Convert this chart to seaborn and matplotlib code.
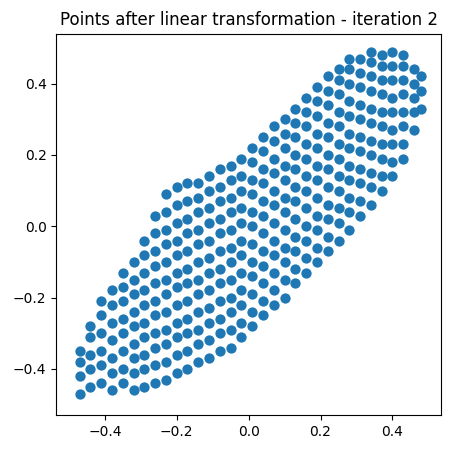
import matplotlib
matplotlib.use("Agg")
import matplotlib.pyplot as plt
import seaborn as sns
import pandas as pd

# point columns: x position and the y values in that column
col_x = [-0.47, -0.44, -0.41, -0.38, -0.35, -0.32, -0.29, -0.26, -0.23, -0.20,
         -0.17, -0.14, -0.11, -0.08, -0.05, -0.02, 0.01, 0.04, 0.07, 0.10,
         0.13, 0.16, 0.19, 0.22, 0.25, 0.28, 0.31, 0.34, 0.37, 0.40,
         0.43, 0.46, 0.48]
col_y = [
    [-0.47, -0.42, -0.38, -0.35],
    [-0.45, -0.40, -0.36, -0.31, -0.28],
    [-0.44, -0.39, -0.35, -0.30, -0.25, -0.21],
    [-0.46, -0.41, -0.37, -0.32, -0.27, -0.22, -0.18],
    [-0.44, -0.40, -0.35, -0.30, -0.26, -0.21, -0.17, -0.13],
    [-0.46, -0.41, -0.37, -0.33, -0.28, -0.24, -0.19, -0.15, -0.10],
    [-0.45, -0.40, -0.36, -0.31, -0.27, -0.22, -0.18, -0.13, -0.08, -0.04],
    [-0.44, -0.39, -0.34, -0.30, -0.25, -0.21, -0.16, -0.11, -0.07, -0.02, 0.03],
    [-0.43, -0.38, -0.33, -0.29, -0.24, -0.19, -0.15, -0.10, -0.05, -0.01, 0.04, 0.09],
    [-0.41, -0.36, -0.31, -0.27, -0.22, -0.17, -0.13, -0.08, -0.04, 0.01, 0.06, 0.11],
    [-0.40, -0.35, -0.30, -0.26, -0.21, -0.16, -0.12, -0.07, -0.02, 0.02, 0.07, 0.12],
    [-0.38, -0.33, -0.29, -0.24, -0.19, -0.15, -0.10, -0.05, -0.01, 0.04, 0.08, 0.12],
    [-0.37, -0.32, -0.27, -0.23, -0.18, -0.13, -0.09, -0.04, 0.01, 0.05, 0.10, 0.14],
    [-0.35, -0.30, -0.26, -0.21, -0.16, -0.12, -0.07, -0.02, 0.02, 0.07, 0.11, 0.16],
    [-0.34, -0.29, -0.24, -0.20, -0.15, -0.10, -0.06, -0.01, 0.04, 0.08, 0.13, 0.17],
    [-0.31, -0.27, -0.22, -0.18, -0.13, -0.08, -0.04, 0.01, 0.05, 0.10, 0.14, 0.19],
    [-0.28, -0.24, -0.19, -0.14, -0.10, -0.05, 0.00, 0.04, 0.09, 0.13, 0.18, 0.22],
    [-0.25, -0.21, -0.16, -0.11, -0.07, -0.02, 0.03, 0.07, 0.12, 0.16, 0.21, 0.25],
    [-0.22, -0.18, -0.13, -0.08, -0.04, 0.01, 0.06, 0.10, 0.15, 0.19, 0.24, 0.28],
    [-0.20, -0.15, -0.10, -0.06, -0.01, 0.04, 0.08, 0.13, 0.17, 0.22, 0.26, 0.30],
    [-0.16, -0.12, -0.07, -0.03, 0.02, 0.07, 0.11, 0.16, 0.20, 0.25, 0.29, 0.33],
    [-0.13, -0.09, -0.04, 0.00, 0.05, 0.10, 0.14, 0.19, 0.23, 0.28, 0.32, 0.36],
    [-0.10, -0.06, -0.01, 0.03, 0.08, 0.13, 0.17, 0.22, 0.26, 0.31, 0.35, 0.39],
    [-0.07, -0.03, 0.02, 0.06, 0.11, 0.16, 0.20, 0.25, 0.29, 0.34, 0.38, 0.42],
    [-0.04, 0.01, 0.05, 0.10, 0.14, 0.19, 0.23, 0.28, 0.32, 0.37, 0.41, 0.44],
    [-0.01, 0.04, 0.08, 0.13, 0.17, 0.22, 0.26, 0.31, 0.35, 0.40, 0.44, 0.47],
    [0.03, 0.07, 0.12, 0.16, 0.21, 0.25, 0.30, 0.34, 0.39, 0.43, 0.47],
    [0.06, 0.11, 0.15, 0.20, 0.24, 0.29, 0.33, 0.38, 0.42, 0.46, 0.49],
    [0.10, 0.14, 0.19, 0.23, 0.28, 0.32, 0.37, 0.41, 0.45, 0.48],
    [0.14, 0.18, 0.23, 0.27, 0.32, 0.36, 0.41, 0.45, 0.49],
    [0.19, 0.23, 0.28, 0.32, 0.37, 0.41, 0.45, 0.48],
    [0.27, 0.32, 0.36, 0.40, 0.44],
    [0.33, 0.38, 0.42],
]

rows = [(x, y) for x, ys in zip(col_x, col_y) for y in ys]
df = pd.DataFrame(rows, columns=["x", "y"])

fig, ax = plt.subplots(figsize=(4.5, 4.49), dpi=100)
sns.scatterplot(data=df, x="x", y="y", ax=ax, s=55, color="#1f77b4", linewidth=0)
ax.set_xlabel("")
ax.set_ylabel("")
ax.set_xlim(-0.535, 0.535)
ax.set_ylim(-0.53, 0.54)
ax.set_xticks([-0.4, -0.2, 0.0, 0.2, 0.4])
ax.set_yticks([-0.4, -0.2, 0.0, 0.2, 0.4])
ax.set_title("Points after linear transformation - iteration 2")
fig.subplots_adjust(left=0.125, right=0.98, bottom=0.075, top=0.925)
fig.savefig("out.png")
